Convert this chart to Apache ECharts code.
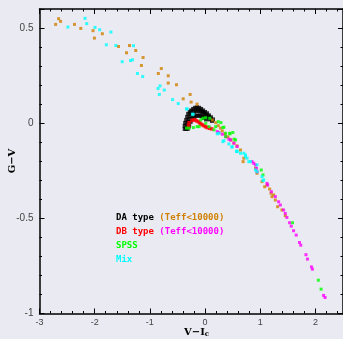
<!DOCTYPE html>
<html>
<head>
<meta charset="utf-8">
<script src="https://cdn.jsdelivr.net/npm/echarts@6/dist/echarts.min.js"></script>
<style>
  html, body { margin: 0; padding: 0; background: #eaeaf2; }
  #chart { width: 343px; height: 339px; }
</style>
</head>
<body>
<div id="chart"></div>
<script>
// [V-Ic, G-V] pairs
const daType = [
  [-0.369, -0.030], [-0.369, -0.014], [-0.360, 0.002], [-0.342, 0.017], [-0.324, 0.033],
  [-0.306, 0.049], [-0.279, 0.059], [-0.252, 0.067], [-0.216, 0.075], [-0.180, 0.081],
  [-0.144, 0.083], [-0.108, 0.081], [-0.072, 0.075], [-0.036, 0.067], [0.000, 0.059],
  [0.036, 0.052], [0.072, 0.041], [0.108, 0.031], [0.144, 0.020],
  [-0.342, -0.030], [-0.324, -0.009], [-0.306, 0.007], [-0.288, 0.023], [-0.261, 0.038],
  [-0.234, 0.049], [-0.198, 0.059], [-0.162, 0.065], [-0.126, 0.065], [-0.090, 0.062],
  [-0.054, 0.057], [-0.018, 0.049], [0.018, 0.041], [0.054, 0.031], [0.090, 0.020],
  [0.126, 0.012],
  [-0.315, -0.030], [-0.288, -0.014], [-0.261, 0.007], [-0.234, 0.023], [-0.198, 0.033],
  [-0.162, 0.038], [-0.126, 0.041], [-0.090, 0.038], [-0.054, 0.036], [-0.018, 0.028],
  [0.018, 0.020]
];
const dbType = [
  [-0.301, -0.009], [-0.297, -0.022], [-0.288, 0.003], [-0.240, 0.014], [-0.207, 0.017],
  [-0.180, 0.017], [-0.153, 0.012], [-0.121, 0.008], [-0.099, 0.002], [-0.077, -0.004],
  [-0.049, -0.009], [-0.018, -0.014], [0.013, -0.019], [0.041, -0.023], [0.081, -0.027],
  [0.121, -0.030]
];
const daCool = [
  [-2.654, 0.549], [-2.618, 0.535], [-2.708, 0.519], [-2.366, 0.519], [-2.252, 0.498],
  [-2.030, 0.486], [-2.005, 0.447], [-1.861, 0.470], [-1.568, 0.403], [-1.369, 0.408],
  [-1.423, 0.370], [-1.256, 0.382], [-1.123, 0.345], [-1.153, 0.303], [-0.793, 0.287],
  [-0.847, 0.261], [-0.667, 0.249], [-0.667, 0.211], [-0.517, 0.202], [-0.270, 0.151],
  [-0.396, 0.128], [-0.252, 0.111], [-0.144, 0.100],
  [0.132, 0.017], [0.193, 0.003], [0.240, -0.013], [0.283, -0.026], [0.312, -0.041],
  [0.360, -0.056], [0.414, -0.072], [0.468, -0.088], [0.523, -0.104], [0.577, -0.119],
  [0.643, -0.141], [0.703, -0.184], [0.690, -0.202], [0.914, -0.237], [0.942, -0.263],
  [1.032, -0.307], [1.081, -0.334], [1.123, -0.325], [1.171, -0.346], [1.195, -0.368],
  [1.243, -0.377], [1.213, -0.386], [1.274, -0.404], [1.315, -0.439], [1.393, -0.456],
  [1.454, -0.486]
];
const dbCool = [
  [0.222, -0.044], [0.252, -0.049], [0.312, -0.058], [0.373, -0.071], [0.432, -0.084],
  [0.463, -0.088], [0.523, -0.105], [0.582, -0.123], [0.852, -0.202], [0.883, -0.211],
  [0.914, -0.219], [0.932, -0.237], [0.942, -0.255], [1.123, -0.316], [1.135, -0.325],
  [1.202, -0.360], [1.274, -0.386], [1.333, -0.413], [1.364, -0.430], [1.423, -0.456],
  [1.454, -0.474], [1.483, -0.495], [1.532, -0.523], [1.562, -0.541], [1.604, -0.565],
  [1.652, -0.588], [1.712, -0.627], [1.735, -0.641], [1.829, -0.691], [1.856, -0.714],
  [1.928, -0.755], [1.946, -0.767], [2.148, -0.905], [2.175, -0.916]
];
const spss = [
  [-0.288, -0.026], [-0.211, -0.023], [-0.144, -0.018], [-0.077, 0.017], [0.013, 0.000],
  [-0.036, 0.026], [0.072, -0.018], [0.162, -0.035], [0.288, 0.003], [0.324, -0.023],
  [0.373, -0.053], [0.450, -0.056], [0.505, -0.049], [0.528, -0.084], [-0.337, -0.026],
  [-0.108, -0.018], [0.013, 0.029], [0.085, 0.026], [0.240, 0.008], [0.193, -0.018],
  [0.342, -0.021], [0.450, -0.053], [0.553, -0.088], [0.373, -0.071], [1.018, -0.246],
  [1.050, -0.272], [1.586, -0.523], [2.054, -0.825], [2.103, -0.872]
];
const mix = [
  [-2.175, 0.551], [-2.144, 0.523], [-2.486, 0.505], [-1.995, 0.503], [-1.910, 0.491],
  [-1.706, 0.479], [-1.789, 0.412], [-1.616, 0.408], [-1.297, 0.407], [-1.501, 0.323],
  [-1.315, 0.333], [-1.351, 0.329], [-1.225, 0.261], [-1.130, 0.245], [-0.816, 0.196],
  [-0.852, 0.182], [-0.739, 0.174], [-0.829, 0.151], [-0.589, 0.124], [-0.486, 0.103],
  [-0.324, 0.075], [-0.216, 0.047], [-0.337, 0.075], [-0.229, 0.047],
  [0.222, -0.056], [0.252, -0.053], [0.342, -0.092], [0.432, -0.109], [0.492, -0.123],
  [0.571, -0.149], [0.643, -0.158], [0.703, -0.158], [0.733, -0.167], [0.762, -0.184],
  [0.823, -0.202], [0.942, -0.219], [0.582, -0.149], [0.733, -0.176], [0.793, -0.202],
  [0.914, -0.246], [0.942, -0.255], [1.032, -0.281], [1.050, -0.302], [1.063, -0.298],
  [0.324, -0.097], [0.486, -0.126], [0.577, -0.146]
];

const xTicks = { min: -3, max: 2.5, interval: 1 };
const yTicks = { min: -1, max: 0.6, interval: 0.5 };

const chart = echarts.init(document.getElementById('chart'));

const axisLine = { show: true, onZero: false, lineStyle: { color: '#000', width: 1.5 } };
const tick = { inside: true, length: 5, lineStyle: { color: '#000' } };
const minor = { show: true, splitNumber: 5, length: 2.5, lineStyle: { color: '#000' } };
const labelStyle = { color: '#444', fontSize: 9, fontFamily: 'Liberation Sans, Arial, sans-serif' };

function mkSeries(name, data, color, size) {
  return {
    name, type: 'scatter', data,
    symbol: 'rect', symbolSize: size || 3,
    itemStyle: { color },
    xAxisIndex: 0, yAxisIndex: 0,
    silent: true
  };
}

const mono = 'bold 9px "DejaVu Sans Mono", monospace';
const legendRich = {};
[['k', '#000'], ['o', '#d08000'], ['r', '#ff0000'], ['m', '#ff00ff'], ['g', '#00ff00'], ['c', '#00ffff']]
  .forEach(([key, fill]) => { legendRich[key] = { fill, font: mono, lineHeight: 13.8 }; });

chart.setOption({
  animation: false,
  backgroundColor: '#eaeaf2',
  grid: { left: 39.5, top: 9, width: 305, height: 304.5 },
  xAxis: [
    {
      type: 'value', position: 'bottom', ...xTicks,
      axisLine, axisTick: tick, minorTick: minor, splitLine: { show: false },
      axisLabel: { ...labelStyle, margin: 5, showMaxLabel: false }
    },
    {
      type: 'value', position: 'top', ...xTicks,
      axisLine, axisTick: tick, minorTick: minor, splitLine: { show: false },
      axisLabel: { show: false }
    }
  ],
  yAxis: [
    {
      type: 'value', position: 'left', ...yTicks,
      axisLine, axisTick: tick, minorTick: minor, splitLine: { show: false },
      axisLabel: { ...labelStyle, fontSize: 10, margin: 6, showMaxLabel: false }
    },
    {
      type: 'value', position: 'right', ...yTicks,
      axisLine, axisTick: tick, minorTick: minor, splitLine: { show: false },
      axisLabel: { show: false }
    }
  ],
  series: [
    mkSeries('DA type', daType, '#000000', 4),
    mkSeries('DB type', dbType, '#ff0000', 3.5),
    mkSeries('DA Teff<10000', daCool, '#d08000'),
    mkSeries('DB Teff<10000', dbCool, '#ff00ff'),
    mkSeries('SPSS', spss, '#00ff00'),
    mkSeries('Mix', mix, '#00ffff')
  ],
  graphic: [
    {
      type: 'text', left: 116, top: 211, z: 10,
      style: {
        text: '{k|DA type} {o|(Teff<10000)}\n{r|DB type} {m|(Teff<10000)}\n{g|SPSS}\n{c|Mix}',
        font: mono, lineHeight: 13.8, rich: legendRich
      }
    },
    {
      type: 'text', left: 184, top: 327,
      style: {
        text: 'V\u2212I{s|c}',
        font: 'bold 10px "DejaVu Serif", serif',
        fill: '#000',
        rich: { s: { font: 'bold 7px "DejaVu Serif", serif', fill: '#000', padding: [5, 0, 0, 0] } }
      }
    },
    {
      type: 'text', x: 12, y: 161, rotation: Math.PI / 2,
      style: {
        text: 'G\u2212V',
        font: 'bold 10px "DejaVu Serif", serif',
        fill: '#000', align: 'center', verticalAlign: 'middle'
      }
    }
  ]
});
</script>
</body>
</html>
